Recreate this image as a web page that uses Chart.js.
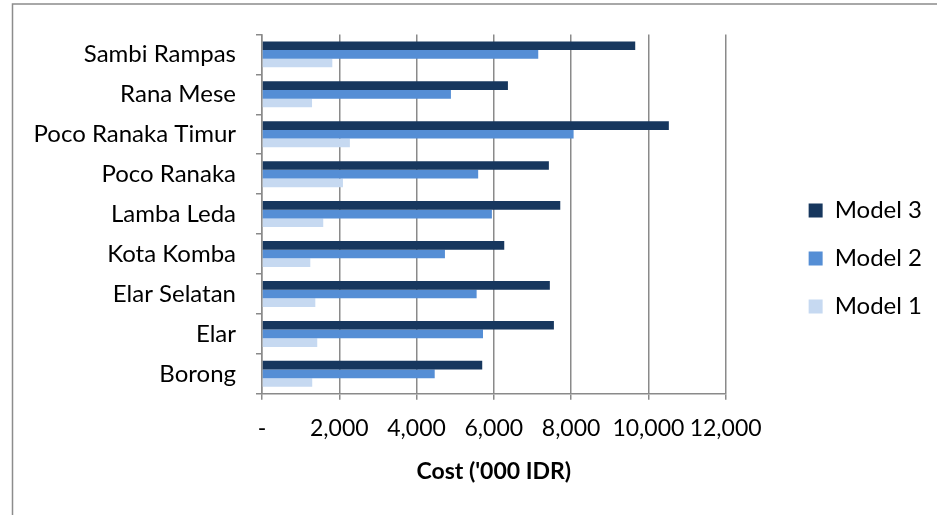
<!DOCTYPE html>
<html>
<head>
<meta charset="utf-8">
<script src="https://cdn.jsdelivr.net/npm/chart.js@4/dist/chart.umd.min.js"></script>
<style>
html,body{margin:0;padding:0;background:#fff;}
#wrap{width:937px;height:515px;position:relative;overflow:hidden;}
</style>
</head>
<body>
<div id="wrap"><canvas id="c" width="937" height="515"></canvas></div>
<script>
const categories = ["Sambi Rampas","Rana Mese","Poco Ranaka Timur","Poco Ranaka","Lamba Leda","Kota Komba","Elar Selatan","Elar","Borong"];
const model3 = [9660, 6365, 10530, 7425, 7720, 6270, 7450, 7555, 5700];
const model2 = [7150, 4890, 8065, 5595, 5950, 4735, 5555, 5720, 4470];
const model1 = [1820, 1295, 2275, 2095, 1585, 1250, 1380, 1430, 1300];
const seriesNames = ["Model 3","Model 2","Model 1"];
const seriesColors = ["#17375E","#558ED5","#C6D9F1"];
const xMin = 0, xMax = 12000, xStep = 2000;
const axisTitle = "Cost ('000 IDR)";

const FONT = "Lato";
const GRID = "#8a8a8a";

const borderPlugin = {
  id: 'outerBorder',
  beforeDraw(chart) {
    const ctx = chart.ctx;
    ctx.save();
    ctx.fillStyle = '#fff';
    ctx.fillRect(0, 0, chart.width, chart.height);
    ctx.strokeStyle = '#8c8c8c';
    ctx.lineWidth = 1.5;
    ctx.beginPath();
    ctx.moveTo(12.5, chart.height + 5);
    ctx.lineTo(12.5, 4);
    ctx.lineTo(chart.width + 5, 4);
    ctx.stroke();
    ctx.restore();
  }
};

new Chart(document.getElementById('c'), {
  type: 'bar',
  data: {
    labels: categories,
    datasets: [
      {label: seriesNames[0], data: model3, backgroundColor: seriesColors[0]},
      {label: seriesNames[1], data: model2, backgroundColor: seriesColors[1]},
      {label: seriesNames[2], data: model1, backgroundColor: seriesColors[2]}
    ]
  },
  options: {
    indexAxis: 'y',
    responsive: false,
    animation: false,
    devicePixelRatio: 1,
    datasets: {bar: {categoryPercentage: 0.65, barPercentage: 1.0, borderWidth: 0}},
    layout: {padding: {left: 0, top: 32, right: 5, bottom: 30}},
    plugins: {
      tooltip: {enabled: false},
      legend: {
        position: 'right',
        labels: {
          boxWidth: 14, boxHeight: 14, padding: 24,
          color: '#000',
          font: {family: FONT, size: 24}
        }
      }
    },
    scales: {
      x: {
        type: 'linear',
        min: xMin, max: xMax,
        ticks: {
          stepSize: xStep,
          autoSkip: false,
          color: '#000',
          padding: 15,
          maxRotation: 0,
          font: {family: FONT, size: 23},
          callback: v => v === 0 ? '-' : v.toLocaleString('en-US')
        },
        grid: {color: GRID, lineWidth: 1.5, tickLength: 6, drawTicks: true},
        border: {color: GRID, width: 1.5},
        title: {
          display: true, text: axisTitle, color: '#000',
          font: {family: FONT, size: 23, weight: 'bold'},
          padding: {top: 0, bottom: 0}
        }
      },
      y: {
        type: 'category',
        position: 'left',
        ticks: {color: '#000', padding: 20, font: {family: FONT, size: 24}},
        grid: {color: GRID, lineWidth: 1.5, drawOnChartArea: false, drawTicks: true, tickLength: 6, offset: true},
        border: {color: GRID, width: 1.5},
        afterFit(s) { s.width = 262; }
      },
      yRight: {
        type: 'category',
        position: 'right',
        display: true,
        grid: {display: false, drawTicks: false},
        border: {display: false},
        ticks: {display: false},
        afterFit(s) { s.width = 59; }
      }
    }
  },
  plugins: [borderPlugin]
});
</script>
</body>
</html>
